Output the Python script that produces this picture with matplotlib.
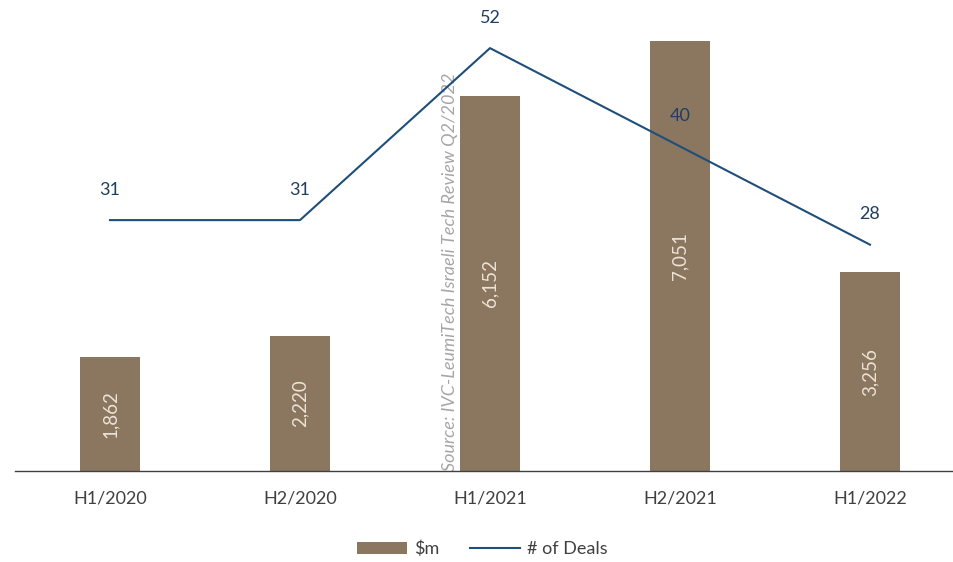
import matplotlib.pyplot as plt
import numpy as np

plt.rcParams['font.family'] = ['Lato', 'DejaVu Sans']

periods = ['H1/2020', 'H2/2020', 'H1/2021', 'H2/2021', 'H1/2022']
amount_m = [1862, 2220, 6152, 7051, 3256]
deals = [31, 31, 52, 40, 28]

bar_color = '#8B7760'
line_color = '#1F4E79'

fig = plt.figure(figsize=(9.54, 5.62), dpi=100)
ax = fig.add_axes([15 / 954, (562 - 471) / 562, 939 / 954, 461 / 562])
ax2 = ax.twinx()

x = np.arange(len(periods))
bars = ax.bar(x, amount_m, width=0.316, color=bar_color, label='$m', zorder=2)
line, = ax2.plot(x, deals, color=line_color, lw=1.5, label='# of Deals', zorder=3)

ax.set_xlim(-0.5, -0.5 + 939 / 190)
ax.set_ylim(0, 461 / 0.061)
ax2.set_ylim(3 / 8.19, 464 / 8.19)

# value labels inside the bars
for xi, v in zip(x, amount_m):
    ax.text(xi, v / 2, f'{v:,}', rotation=90, ha='center', va='center',
            fontsize=13.5, color='#EDE3D6', zorder=4)

# deal counts above the line
for xi, d in zip(x, deals):
    ax2.annotate(str(d), (xi, d), xytext=(0, 22), textcoords='offset points',
                 ha='center', va='center', fontsize=13, color='#1F3F5F')

ax.text(1.79, 0, 'Source: IVC-LeumiTech Israeli Tech Review Q2/2022', rotation=90,
        ha='center', va='bottom', fontsize=13, style='italic', color='#A6A6A6', zorder=1)

for a in (ax, ax2):
    for s in ('top', 'left', 'right'):
        a.spines[s].set_visible(False)
    a.set_yticks([])
ax2.spines['bottom'].set_visible(False)
ax.spines['bottom'].set_color('#404040')
ax.spines['bottom'].set_linewidth(1.0)

ax.set_xticks(x)
ax.set_xticklabels(periods, fontsize=13, color='#404040')
ax.tick_params(axis='x', length=0, pad=14)

fig.legend([bars, line], ['$m', '# of Deals'], loc='center', bbox_to_anchor=(482 / 954, 1 - 549 / 562),
           ncol=2, frameon=False, fontsize=13, handlelength=2.8, columnspacing=1.7,
           handletextpad=0.35, labelcolor='#404040')

fig.savefig('out.png', dpi=100)
